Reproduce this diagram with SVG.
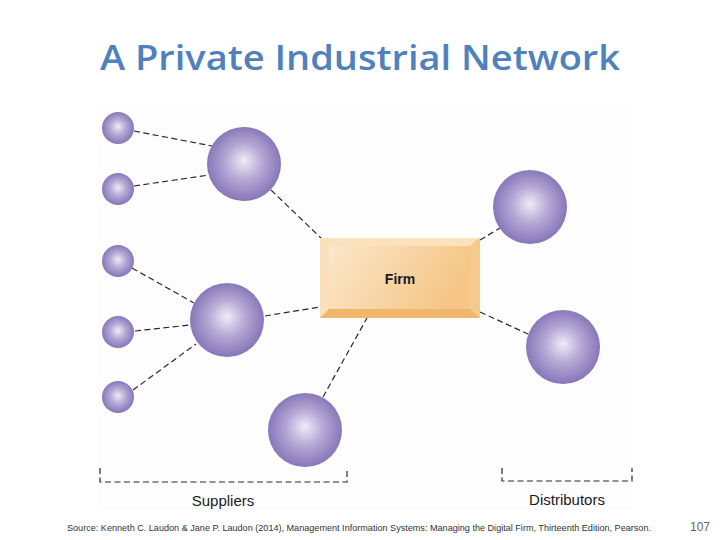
<svg xmlns="http://www.w3.org/2000/svg" width="720" height="540" viewBox="0 0 720 540">
<defs>
<radialGradient id="sph" cx="0.5" cy="0.5" r="0.55" fx="0.5" fy="0.45">
<stop offset="0" stop-color="#efecf7"/>
<stop offset="0.45" stop-color="#b4a8d5"/>
<stop offset="1" stop-color="#7f6db4"/>
</radialGradient>
<linearGradient id="face" x1="0" y1="0" x2="1" y2="0.3">
<stop offset="0" stop-color="#fbe7cb"/>
<stop offset="1" stop-color="#f5c687"/>
</linearGradient>
<style>
.sp{fill:url(#sph)}
.cn{fill:none;stroke:#2a2a2a;stroke-width:1.2;stroke-dasharray:6 3.5}
.lbl{font-family:"Liberation Sans",Arial,sans-serif;font-size:15px;fill:#1a1a1a;text-anchor:middle}
</style>
</defs>
<rect width="720" height="540" fill="#ffffff"/>
<rect x="98" y="108" width="534" height="402" fill="#fdfdfd"/>
<text x="360" y="70" font-family="'Open Sans','Liberation Sans',sans-serif" font-size="34" font-weight="600" fill="#4f81bd" text-anchor="middle" textLength="520" lengthAdjust="spacingAndGlyphs">A Private Industrial Network</text>
<g id="connectors">
<line class="cn" x1="134" y1="131" x2="212" y2="146"/>
<line class="cn" x1="134" y1="186" x2="209" y2="175"/>
<line class="cn" x1="271" y1="190" x2="322" y2="239"/>
<line class="cn" x1="132" y1="268" x2="194" y2="303"/>
<line class="cn" x1="135" y1="331" x2="190" y2="325"/>
<line class="cn" x1="133" y1="390" x2="196" y2="344"/>
<line class="cn" x1="265" y1="316" x2="320" y2="307"/>
<line class="cn" x1="323" y1="397" x2="367" y2="318"/>
<line class="cn" x1="480" y1="240" x2="500" y2="228"/>
<line class="cn" x1="480" y1="312" x2="528" y2="334"/>
<path class="cn" d="M100 468 V482 H347 V468"/>
<path class="cn" d="M502 468 V481 H632 V468"/>
</g>
<g id="s1"><circle class="sp" cx="118" cy="128" r="16"/></g>
<g id="s2"><circle class="sp" cx="118" cy="189" r="16"/></g>
<g id="s3"><circle class="sp" cx="118" cy="261" r="16"/></g>
<g id="s4"><circle class="sp" cx="118" cy="332" r="16"/></g>
<g id="s5"><circle class="sp" cx="118" cy="397" r="16"/></g>
<g id="b1"><circle class="sp" cx="244" cy="164" r="37"/></g>
<g id="b2"><circle class="sp" cx="227" cy="320" r="37"/></g>
<g id="b3"><circle class="sp" cx="305" cy="430" r="37"/></g>
<g id="d1"><circle class="sp" cx="530" cy="207" r="37"/></g>
<g id="d2"><circle class="sp" cx="563" cy="347" r="37"/></g>
<g id="firm">
<rect x="320" y="238" width="160" height="80" fill="#f3c283"/>
<polygon points="320,238 480,238 470,246 329,246" fill="#fbe2bd"/>
<polygon points="320,238 329,246 329,309 320,318" fill="#fae0bb"/>
<polygon points="480,238 480,318 470,309 470,246" fill="#f6ca8f"/>
<polygon points="320,318 329,309 470,309 480,318" fill="#f0b66c"/>
<rect x="329" y="246" width="141" height="63" fill="url(#face)"/>
<text x="400" y="284" font-family="'Liberation Sans',Arial,sans-serif" font-size="14" font-weight="bold" fill="#1a1a1a" text-anchor="middle">Firm</text>
</g>
<text class="lbl" x="223" y="506">Suppliers</text>
<text class="lbl" x="567" y="505">Distributors</text>
<text x="67" y="531" font-family="'Liberation Sans',Arial,sans-serif" font-size="9" fill="#333" textLength="584" lengthAdjust="spacingAndGlyphs">Source: Kenneth C. Laudon &amp; Jane P. Laudon (2014), Management Information Systems: Managing the Digital Firm, Thirteenth Edition, Pearson.</text>
<text x="700" y="531" font-family="'Liberation Sans',Arial,sans-serif" font-size="12" fill="#666" text-anchor="middle">107</text>
</svg>
